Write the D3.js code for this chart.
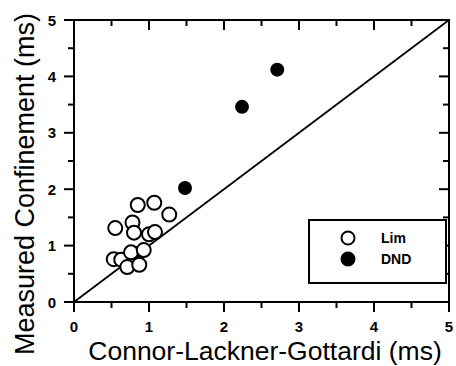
<!DOCTYPE html>
<html>
<head>
<meta charset="utf-8">
<script src="https://cdn.jsdelivr.net/npm/d3@7"></script>
<style>
  body { margin: 0; background: #fff; }
  svg { display: block; font-family: "Liberation Sans", Arial, sans-serif; }
</style>
</head>
<body>
<svg id="chart" width="456" height="366"></svg>
<script>
// data
let limX = [0.85, 1.07, 1.27, 0.55, 0.78, 0.80, 1.00, 1.08, 0.53, 0.63, 0.71, 0.87, 0.76, 0.93];
let limY = [1.72, 1.76, 1.55, 1.31, 1.41, 1.23, 1.20, 1.24, 0.76, 0.75, 0.62, 0.66, 0.88, 0.92];
let dndX = [2.71, 2.24, 1.48, 0.84];
let dndY = [4.12, 3.46, 2.02, 0.87];
let tickVals = [0, 1, 2, 3, 4, 5];
let legendLabels = ['Lim', 'DND'];

let svg = d3.select('#chart');
let pLeft = 74, pRight = 449, pTop = 20, pBottom = 302;

let x = d3.scaleLinear().domain([0, 5]).range([pLeft, pRight]);
let y = d3.scaleLinear().domain([0, 5]).range([pBottom, pTop]);

let minor = d3.range(0, 5.01, 0.5);
let tlen = d => (d % 1 === 0 ? 10 : 6);

// frame
svg.append('rect')
  .attr('x', pLeft).attr('y', pTop)
  .attr('width', pRight - pLeft).attr('height', pBottom - pTop)
  .attr('fill', 'none').attr('stroke', '#000').attr('stroke-width', 2);

let g = svg.append('g').attr('stroke', '#000').attr('stroke-width', 2);
// bottom ticks (outside)
g.selectAll('.bt').data(minor).enter().append('line')
  .attr('x1', d => x(d)).attr('x2', d => x(d))
  .attr('y1', pBottom).attr('y2', d => pBottom + tlen(d));
// top ticks (inside)
g.selectAll('.tt').data(minor).enter().append('line')
  .attr('x1', d => x(d)).attr('x2', d => x(d))
  .attr('y1', pTop).attr('y2', d => pTop + tlen(d));
// left ticks (outside)
g.selectAll('.lt').data(minor).enter().append('line')
  .attr('y1', d => y(d)).attr('y2', d => y(d))
  .attr('x1', pLeft).attr('x2', d => pLeft - tlen(d));
// right ticks (inside)
g.selectAll('.rt').data(minor).enter().append('line')
  .attr('y1', d => y(d)).attr('y2', d => y(d))
  .attr('x1', pRight).attr('x2', d => pRight - tlen(d));

// tick labels
svg.selectAll('.xl').data(tickVals).enter().append('text')
  .attr('x', d => x(d)).attr('y', 332)
  .attr('text-anchor', 'middle')
  .attr('font-size', 15).attr('font-weight', 'bold')
  .text(d => d);
svg.selectAll('.yl').data(tickVals).enter().append('text')
  .attr('x', 56).attr('y', d => y(d) + 5.5)
  .attr('text-anchor', 'end')
  .attr('font-size', 15).attr('font-weight', 'bold')
  .text(d => d);

// axis titles
svg.append('text')
  .attr('x', 265).attr('y', 360)
  .attr('text-anchor', 'middle').attr('font-size', 26.5)
  .text('Connor-Lackner-Gottardi (ms)');
svg.append('text')
  .attr('transform', 'translate(34,184) rotate(-90)')
  .attr('text-anchor', 'middle').attr('font-size', 27)
  .text('Measured Confinement (ms)');

// y = x line
svg.append('line')
  .attr('x1', x(0)).attr('y1', y(0))
  .attr('x2', x(5)).attr('y2', y(5))
  .attr('stroke', '#000').attr('stroke-width', 1.8);

// points
let r = 7;
svg.append('g').selectAll('circle').data(dndX).enter().append('circle')
  .attr('cx', d => x(d)).attr('cy', (d, i) => y(dndY[i]))
  .attr('r', r).attr('fill', '#000');
svg.append('g').selectAll('circle').data(limX).enter().append('circle')
  .attr('cx', d => x(d)).attr('cy', (d, i) => y(limY[i]))
  .attr('r', r).attr('fill', '#fff').attr('stroke', '#000').attr('stroke-width', 2);

// legend
let lg = svg.append('g');
lg.append('rect')
  .attr('x', 309).attr('y', 220).attr('width', 137).attr('height', 63)
  .attr('fill', '#fff').attr('stroke', '#000').attr('stroke-width', 2);
legendLabels.forEach((lab, i) => {
  let cy = 238 + i * 21;
  lg.append('circle')
    .attr('cx', 348).attr('cy', cy).attr('r', 6.5)
    .attr('fill', i ? '#000' : '#fff')
    .attr('stroke', '#000').attr('stroke-width', 2);
  lg.append('text')
    .attr('x', 381).attr('y', cy + 5)
    .attr('font-size', 14).attr('font-weight', 'bold')
    .text(lab);
});
</script>
</body>
</html>
